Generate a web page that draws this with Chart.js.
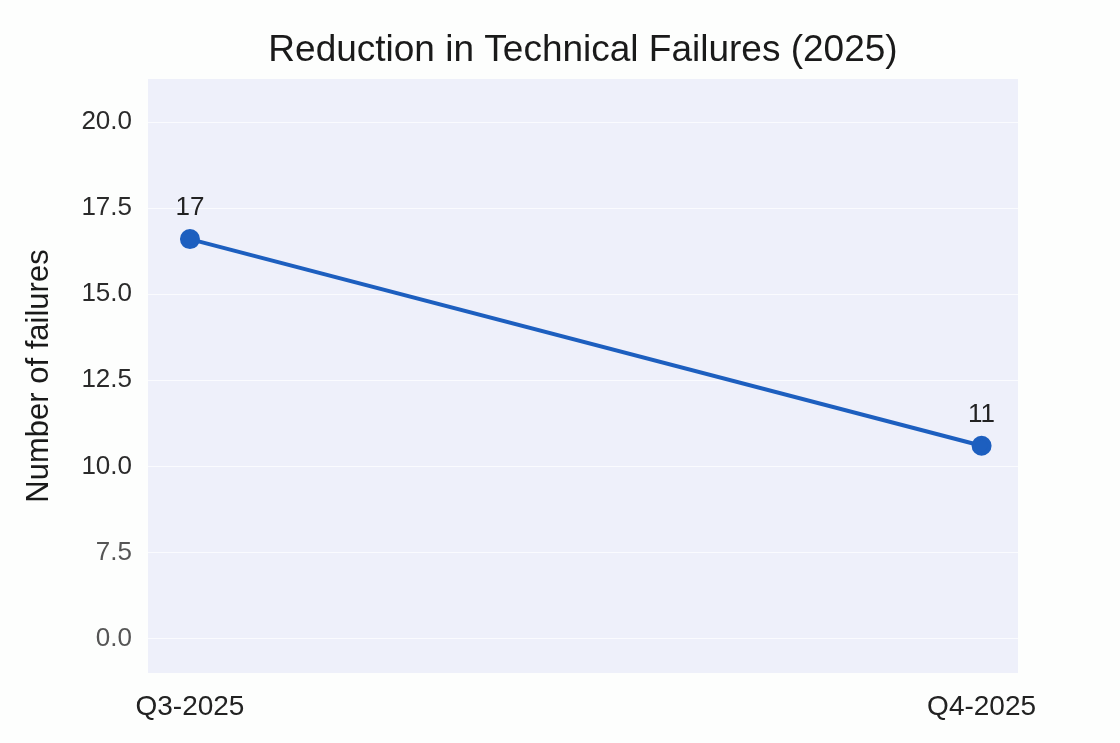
<!DOCTYPE html>
<html>
<head>
<meta charset="utf-8">
<script src="https://cdn.jsdelivr.net/npm/chart.js@4/dist/chart.umd.min.js"></script>
<style>
    html, body { margin: 0; padding: 0; background: #fdfefd; }
    #wrap { width: 1120px; height: 743px; }
</style>
</head>
<body>
<div id="wrap"><canvas id="failChart"></canvas></div>
<script>
// data
const quarters   = ['Q3-2025', 'Q4-2025'];
const failures   = [16.6, 10.6];
const pointTags  = ['17', '11'];
const tickValues = [5, 7.5, 10, 12.5, 15, 17.5, 20];
const tickLabels = ['0.0', '7.5', '10.0', '12.5', '15.0', '17.5', '20.0'];
const chartTitle = 'Reduction in Technical Failures (2025)';

const font = '"Liberation Sans", Arial, sans-serif';

/* plot background + title centred over the plot */
const plotDeco = {
    id: 'plotDeco',
    beforeDraw(chart) {
        const { ctx, chartArea: a } = chart;
        ctx.save();
        ctx.fillStyle = '#eef0fa';
        ctx.fillRect(a.left, a.top, a.right - a.left, a.bottom - a.top);
        ctx.font = `37px ${font}`;
        ctx.fillStyle = '#1a1a1a';
        ctx.textAlign = 'center';
        ctx.textBaseline = 'middle';
        ctx.fillText(chartTitle, (a.left + a.right) / 2, 51);
        ctx.restore();
    },
};

/* value tags above points */
const pointLabels = {
    id: 'pointLabels',
    afterDatasetsDraw(chart) {
        const { ctx } = chart;
        const meta = chart.getDatasetMeta(0);
        ctx.save();
        ctx.font = `26px ${font}`;
        ctx.fillStyle = '#222';
        ctx.textAlign = 'center';
        ctx.textBaseline = 'middle';
        meta.data.forEach((pt, i) => {
            ctx.fillText(pointTags[i], pt.x, pt.y - 31);
        });
        ctx.restore();
    },
};

new Chart(document.getElementById('failChart'), {
    type: 'line',
    data: {
        datasets: [{
            data: failures.map((v, i) => ({ x: i, y: v })),
            borderColor: '#1d5fbf',
            backgroundColor: '#1d5fbf',
            borderWidth: 4,
            pointRadius: 8,
            pointHoverRadius: 8,
            tension: 0,
        }],
    },
    options: {
        responsive: true,
        maintainAspectRatio: false,
        animation: false,
        layout: { padding: { left: 0, right: 102, top: 79, bottom: 0 } },
        plugins: {
            legend: { display: false },
            tooltip: { enabled: false },
            title: { display: false },
        },
        scales: {
            x: {
                type: 'linear',
                min: -0.053,
                max: 1.046,
                afterBuildTicks: s => { s.ticks = quarters.map((q, i) => ({ value: i })); },
                afterFit: s => { s.height = 70; },
                ticks: {
                    callback: (v, i) => quarters[i],
                    color: '#222',
                    padding: 17,
                    maxRotation: 0,
                    font: { family: font, size: 28 },
                },
                grid: { display: false, drawTicks: false },
                border: { display: false },
            },
            y: {
                min: 4,
                max: 21.25,
                afterBuildTicks: s => { s.ticks = tickValues.map(v => ({ value: v })); },
                afterFit: s => { s.width = 148; },
                ticks: {
                    callback: (v, i) => tickLabels[i],
                    color: ctx => (ctx.index < 2 ? '#555' : '#2a2a2a'),
                    padding: 16,
                    font: { family: font, size: 26 },
                },
                grid: { color: 'rgba(255,255,255,0.7)', lineWidth: 1, drawTicks: false },
                border: { display: false },
                title: {
                    display: true,
                    text: 'Number of failures',
                    color: '#1a1a1a',
                    font: { family: font, size: 31 },
                    padding: { top: 21, bottom: 0 },
                },
            },
        },
    },
    plugins: [plotDeco, pointLabels],
});
</script>
</body>
</html>
